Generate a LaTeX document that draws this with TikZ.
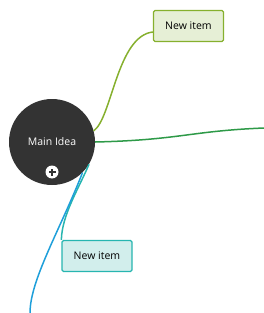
\documentclass[tikz,border=0pt]{standalone}
\usepackage{fontspec}
\setmainfont{Open Sans}
\usepackage{tikz}
\definecolor{ideadark}{HTML}{333333}
\definecolor{limeline}{HTML}{86B02E}
\definecolor{limefill}{HTML}{E6EFD6}
\definecolor{grassline}{HTML}{2E9A48}
\definecolor{tealline}{HTML}{27B5B0}
\definecolor{tealfill}{HTML}{D2EEEC}
\definecolor{skyline}{HTML}{1E9FDA}

\begin{document}
\begin{tikzpicture}[x=1pt, y=-1pt,
  item/.style={draw, line width=1.3pt, rounded corners=1.5pt, minimum width=70pt, minimum height=31pt, inner sep=0pt, font=\fontsize{10.5}{12}\selectfont},
  branch/.style={line width=1.5pt}]
\useasboundingbox (0,0) rectangle (264,313);
\node[circle, fill=ideadark, text=white, minimum size=86pt, inner sep=0pt, font=\fontsize{10.5}{12}\selectfont] (main) at (52,142) {Main Idea};
\node[circle, fill=white, minimum size=13pt, inner sep=0pt] (plus) at (52,172) {};
\fill[ideadark] (48.5,171) rectangle (55.5,173);
\fill[ideadark] (51,168.5) rectangle (53,175.5);
\node[item, draw=limeline, fill=limefill] (itemA) at (188.5,26) {New item};
\node[item, draw=tealline, fill=tealfill] (itemB) at (97,256) {New item};
\coordinate (rightend) at (264,128);
\coordinate (bottomend) at (30,313);
\draw[branch, limeline] (main.15) .. controls (112,118) and (117,36) .. ([yshift=-6pt]itemA.west);
\draw[branch, grassline] (main.east) .. controls (180,140) and (190,131) .. (rightend);
\draw[branch, tealline] (main.-31) .. controls (78,190) and (62,215) .. (itemB.north west);
\draw[branch, skyline] (main.-45) .. controls (60,230) and (30,280) .. (bottomend);
\end{tikzpicture}
\end{document}
